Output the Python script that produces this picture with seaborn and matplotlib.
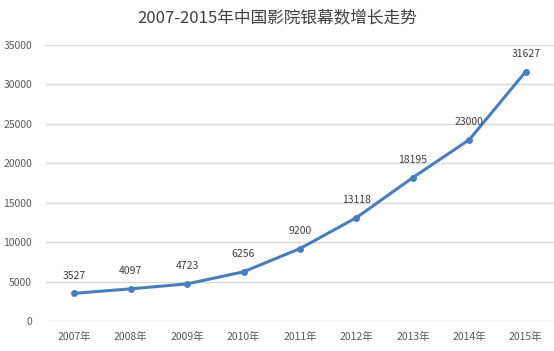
import matplotlib
matplotlib.use("Agg")
import matplotlib.pyplot as plt
import seaborn as sns
import pandas as pd

years = ["2007年", "2008年", "2009年", "2010年", "2011年", "2012年", "2013年", "2014年", "2015年"]
screens = [3527, 4097, 4723, 6256, 9200, 13118, 18195, 23000, 31627]
yticks = [0, 5000, 10000, 15000, 20000, 25000, 30000, 35000]
title = "2007-2015年中国影院银幕数增长走势"

sns.set_theme(style="white")
plt.rcParams['font.family'] = ['Noto Sans CJK SC', 'DejaVu Sans']

df = pd.DataFrame({"year": years, "screens": screens, "x": range(len(years))})

fig = plt.figure(figsize=(5.54, 3.51), dpi=100)
ax = fig.add_axes([0.083, 0.085, 0.917, 0.787])

sns.lineplot(data=df, x="x", y="screens", ax=ax, color="#4A7EBB", linewidth=2.2,
             marker="o", markersize=5, markeredgewidth=0, zorder=3)

ax.set_xlim(-0.5, len(years) - 0.5)
ax.set_ylim(0, 35000)
ax.set_yticks(yticks)
ax.set_yticklabels([str(v) for v in yticks])
ax.set_xticks(range(len(years)))
ax.set_xticklabels(years)
ax.grid(axis="y", color="#D9D9D9", linewidth=1)
ax.set_axisbelow(True)
for s in ax.spines.values():
    s.set_visible(False)
ax.tick_params(axis="both", length=0, labelsize=7.5, labelcolor="#595959")
ax.tick_params(axis="x", pad=8)
ax.tick_params(axis="y", pad=10)
ax.set_xlabel("")
ax.set_ylabel("")

for i, v in enumerate(screens):
    ax.annotate(str(v), (i, v), xytext=(0, 9), textcoords="offset points",
                ha="center", va="bottom", fontsize=7.5, color="#404040")

fig.text(0.5, 0.95, title, ha="center", va="center", fontsize=12,
         fontweight="normal", color="#404040")

fig.savefig("out.png", dpi=100)
